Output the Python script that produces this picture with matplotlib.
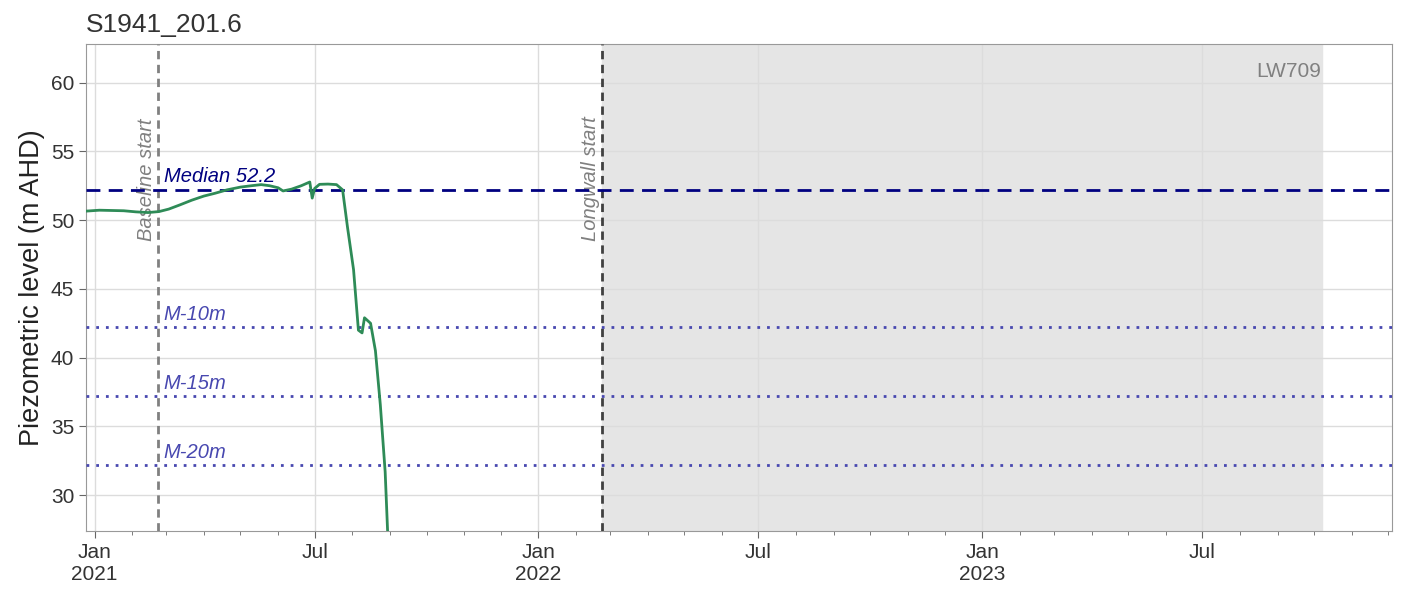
import matplotlib
matplotlib.use("Agg")
import matplotlib.pyplot as plt
import matplotlib.dates as mdates
import pandas as pd
import numpy as np

plt.rcParams['font.family'] = ['Liberation Sans', 'DejaVu Sans']

# ---- data ----
dates = ["2020-12-26", "2021-01-05", "2021-01-15", "2021-01-25", "2021-02-04",
         "2021-02-14", "2021-02-23", "2021-03-03", "2021-03-12", "2021-03-22",
         "2021-04-01", "2021-04-10", "2021-04-20", "2021-05-01", "2021-05-10",
         "2021-05-18", "2021-05-25", "2021-06-01", "2021-06-05", "2021-06-12",
         "2021-06-20", "2021-06-27", "2021-06-29", "2021-07-01", "2021-07-05",
         "2021-07-12", "2021-07-19", "2021-07-24", "2021-07-28", "2021-08-02",
         "2021-08-06", "2021-08-09", "2021-08-11", "2021-08-16", "2021-08-20",
         "2021-08-24", "2021-08-28", "2021-08-30"]
levels = [50.66, 50.72, 50.7, 50.68, 50.6,
          50.55, 50.62, 50.8, 51.1, 51.45,
          51.75, 51.95, 52.2, 52.4, 52.5,
          52.58, 52.5, 52.35, 52.12, 52.25,
          52.5, 52.77, 51.6, 52.3, 52.6,
          52.62, 52.58, 52.2, 49.5, 46.4,
          42.0, 41.8, 42.9, 42.5, 40.5,
          36.6, 31.7, 27.4]

median = 52.2
thresholds = [10, 15, 20]
threshold_labels = ["M-10m", "M-15m", "M-20m"]
baseline_start = "2021-02-22"
longwall_start = "2022-02-22"
lw_end = "2023-10-07"
panel_label = "LW709"
title = "S1941_201.6"
xlim = ("2020-12-25", "2023-12-04")
ylim = (27.4, 62.8)
yticks = [30, 35, 40, 45, 50, 55, 60]

# ---- plot ----
fig = plt.figure(figsize=(14.01, 5.91), dpi=100)
ax = fig.add_axes([0.0614, 0.1015, 0.9322, 0.824])

d = pd.to_datetime(dates)
ax.plot(d, levels, color="#2e8b57", lw=2, zorder=5)

ax.axvspan(pd.Timestamp(longwall_start), pd.Timestamp(lw_end), color="#e5e5e5", zorder=0)
ax.text(pd.Timestamp(lw_end), 60.8, panel_label, ha="right", va="center",
        color="#808080", fontsize=15)

ax.axhline(median, color="navy", ls=(0, (5, 3)), lw=2, zorder=4)
ax.text(pd.Timestamp("2021-02-27"), median + 0.25, f"Median {median}", color="navy",
        style="italic", fontsize=14.5, ha="left", va="bottom")
for t, lab in zip(thresholds, threshold_labels):
    ax.axhline(median - t, color="#4848b0", ls=(0, (1, 2.5)), lw=2, zorder=4)
    ax.text(pd.Timestamp("2021-02-27"), median - t + 0.25, lab, color="#4848b0",
            style="italic", fontsize=14.5, ha="left", va="bottom")

ax.axvline(pd.Timestamp(baseline_start), color="#808080", ls=(0, (3, 2)), lw=2, zorder=3)
ax.text(pd.Timestamp(baseline_start) - pd.Timedelta(days=9), 48.5, "Baseline start",
        rotation=90, color="#808080", style="italic", fontsize=14.5, ha="center", va="bottom")
ax.axvline(pd.Timestamp(longwall_start), color="#404040", ls=(0, (3, 2)), lw=2, zorder=3)
ax.text(pd.Timestamp(longwall_start) - pd.Timedelta(days=9), 48.5, "Longwall start",
        rotation=90, color="#808080", style="italic", fontsize=14.5, ha="center", va="bottom")

ax.set_xlim(pd.Timestamp(xlim[0]), pd.Timestamp(xlim[1]))
ax.set_ylim(*ylim)
ax.set_yticks(yticks)

ax.xaxis.set_major_locator(mdates.MonthLocator(bymonth=[1, 7]))
ax.xaxis.set_minor_locator(mdates.MonthLocator())

def fmt(x, pos=None):
    dt = mdates.num2date(x)
    if dt.month == 1:
        return f"Jan\n{dt.year}"
    return dt.strftime("%b")
ax.xaxis.set_major_formatter(plt.FuncFormatter(fmt))

ax.grid(True, which="major", color="#dcdcdc", lw=1, zorder=1)
ax.set_axisbelow(True)
for s in ax.spines.values():
    s.set_color("#999999")
ax.tick_params(axis="both", which="major", labelsize=15, colors="#333333", length=5,
               color="#666666")
ax.tick_params(axis="x", which="minor", length=3, color="#666666")
ax.set_ylabel("Piezometric level (m AHD)", fontsize=19.5, color="#222222")
ax.set_title(title, loc="left", fontsize=19, color="#333333", pad=9)

fig.savefig("out.png", dpi=100)
